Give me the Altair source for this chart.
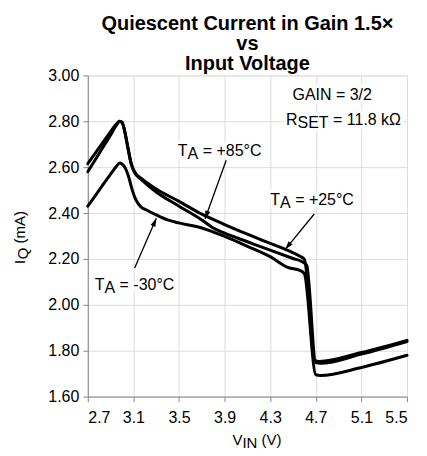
import math
import altair as alt
import pandas as pd

# ---------------- data ----------------
v_25 = [2.70, 2.80, 2.90, 2.95, 2.98, 3.00, 3.02, 3.05, 3.08, 3.11, 3.17, 3.30, 3.50,
        3.70, 3.90, 4.10, 4.30, 4.47, 4.56, 4.60, 4.69, 4.73, 5.10, 5.50]
i_25 = [2.580, 2.660, 2.740, 2.782, 2.800, 2.795, 2.765, 2.690, 2.618, 2.580, 2.551, 2.505, 2.451,
        2.395, 2.350, 2.308, 2.268, 2.234, 2.212, 2.198, 1.758, 1.753, 1.792, 1.845]

v_85 = [2.70, 2.80, 2.90, 2.95, 2.98, 3.00, 3.02, 3.05, 3.08, 3.11, 3.17, 3.30, 3.50,
        3.70, 3.80, 3.90, 4.10, 4.30, 4.50, 4.58, 4.62, 4.70, 4.74, 5.10, 5.50]
i_85 = [2.615, 2.685, 2.755, 2.788, 2.800, 2.795, 2.765, 2.688, 2.615, 2.576, 2.546, 2.492, 2.430,
        2.370, 2.335, 2.312, 2.275, 2.238, 2.202, 2.188, 2.172, 1.748, 1.745, 1.785, 1.840]

v_m30 = [2.70, 2.80, 2.90, 2.95, 2.98, 3.00, 3.03, 3.06, 3.09, 3.12, 3.16, 3.22, 3.30, 3.40, 3.50,
         3.70, 3.90, 4.10, 4.30, 4.46, 4.56, 4.60, 4.70, 4.74, 5.10, 5.50]
i_m30 = [2.430, 2.500, 2.570, 2.603, 2.618, 2.614, 2.595, 2.555, 2.500, 2.460, 2.430, 2.412, 2.392, 2.370, 2.357,
         2.335, 2.298, 2.255, 2.210, 2.162, 2.150, 2.135, 1.695, 1.692, 1.727, 1.780]

x_ticks = [2.7, 3.1, 3.5, 3.9, 4.3, 4.7, 5.1, 5.5]
y_ticks = [1.6, 1.8, 2.0, 2.2, 2.4, 2.6, 2.8, 3.0]

title_lines = ["Quiescent Current in Gain 1.5\u00d7", "vs", "Input Voltage"]

# annotations: main text, subscript, rest, anchor (V, mA)
label_main = ["T", "T", "T", "R"]
label_sub = ["A", "A", "A", "SET"]
label_rest = [" = +85\u00b0C", " = +25\u00b0C", " = -30\u00b0C", " = 11.8 k\u03a9"]
label_v = [3.490, 4.301, 2.761, 4.439]
label_i = [2.650, 2.435, 2.065, 2.785]

gain_text = "GAIN = 3/2"
gain_v = 4.496
gain_i = 2.891

arrow_tail_v = [3.914, 4.686, 3.111]
arrow_tail_i = [2.630, 2.396, 2.160]
arrow_tip_v = [3.728, 4.432, 3.301]
arrow_tip_i = [2.374, 2.242, 2.377]

# axis titles
x_title = ("V", "IN", " (V)")
y_title = ("I", "Q", " (mA)")

# ---------------- layout / style ----------------
W, H = 320, 322
XMIN, XMAX = 2.7, 5.5
YMIN, YMAX = 1.6, 3.0
FONT = "Liberation Sans"
ANN = 16
AX = 15
TICK = 16

# Arial advance widths (em) for composing sub/sup pieces
ADV = {"T": .611, "A": .667, "R": .722, "S": .667, "E": .667, "V": .667, "I": .278,
       "N": .722, "Q": .778, " ": .278}


def tw(s, size):
    return sum(ADV.get(c, .556) for c in s) * size


def split_lead(s, size):
    # SVG drops leading spaces: move them into the horizontal offset instead
    stripped = s.lstrip(" ")
    return stripped, tw(s[: len(s) - len(stripped)], size)


xs = alt.Scale(domain=[XMIN, XMAX], nice=False, zero=False)
ys = alt.Scale(domain=[YMIN, YMAX], nice=False, zero=False)

frames = []
for name, vv, ii in (("+25", v_25, i_25), ("+85", v_85, i_85), ("-30", v_m30, i_m30)):
    frames.append(pd.DataFrame({"series": name, "v": vv, "i": ii}))
curves_df = pd.concat(frames, ignore_index=True)

base_axes = alt.Chart(curves_df).mark_line(
    color="black", strokeWidth=3, interpolate="monotone", strokeJoin="round", strokeCap="round"
).encode(
    x=alt.X("v:Q", scale=xs,
            axis=alt.Axis(values=x_ticks, format=".1f", title="", labelPadding=8,
                          labelFontSize=TICK, labelFont=FONT, labelColor="black")),
    y=alt.Y("i:Q", scale=ys,
            axis=alt.Axis(values=y_ticks, format=".2f", title="", labelPadding=4,
                          labelFontSize=TICK, labelFont=FONT, labelColor="black")),
    detail="series:N",
)

layers = [base_axes]


def piece(df, text, dx, dy, halo, size=ANN, angle=None, use_value=None):
    txt, lead = split_lead(text, size)
    kw = dict(text=txt, align="left", baseline="alphabetic", font=FONT,
              fontSize=size, dx=dx + lead, dy=dy)
    if angle is not None:
        kw["angle"] = angle
    if halo:
        kw.update(color="white", stroke="white", strokeWidth=7, strokeJoin="round")
    else:
        kw.update(color="black")
    ch = alt.Chart(df).mark_text(**kw)
    if use_value is None:
        return ch.encode(x=alt.X("v:Q", scale=xs), y=alt.Y("i:Q", scale=ys))
    return ch.encode(x=alt.value(use_value[0]), y=alt.value(use_value[1]))


one = pd.DataFrame({"k": [0]})

# annotation labels (halo first, then black text)
for halo in (True, False):
    for k in range(len(label_main)):
        df = pd.DataFrame({"v": [label_v[k]], "i": [label_i[k]]})
        w1 = tw(label_main[k], ANN)
        w2 = tw(label_sub[k], ANN)
        layers.append(piece(df, label_main[k], 0, 0, halo))
        layers.append(piece(df, label_sub[k], w1, 3, halo))
        layers.append(piece(df, label_rest[k], w1 + w2, 0, halo))
    gdf = pd.DataFrame({"v": [gain_v], "i": [gain_i]})
    layers.append(piece(gdf, gain_text, 0, 0, halo))

# arrows
px_v = W / (XMAX - XMIN)
px_i = H / (YMAX - YMIN)
angs = []
for tv, ti, hv, hi in zip(arrow_tail_v, arrow_tail_i, arrow_tip_v, arrow_tip_i):
    dxp = (hv - tv) * px_v
    dyp = -(hi - ti) * px_i
    angs.append(math.degrees(math.atan2(dxp, -dyp)) % 360)
arrows_df = pd.DataFrame({"tv": arrow_tail_v, "ti": arrow_tail_i,
                          "v": arrow_tip_v, "i": arrow_tip_i, "ang": angs})
layers.append(alt.Chart(arrows_df).mark_rule(color="black", strokeWidth=1.3).encode(
    x=alt.X("tv:Q", scale=xs), y=alt.Y("ti:Q", scale=ys), x2="v:Q", y2="i:Q"))
layers.append(alt.Chart(arrows_df).mark_point(
    shape="M0,0L0.75,2.4L-0.75,2.4Z", filled=True, size=49, color="black", opacity=1,
    strokeWidth=0).encode(
    x=alt.X("v:Q", scale=xs), y=alt.Y("i:Q", scale=ys), angle=alt.Angle("ang:Q", scale=None)))

# x axis title V_IN (V)
xt_x, xt_y = 145, 371
w1 = tw(x_title[0], AX)
w2 = tw(x_title[1], AX)
layers.append(piece(one, x_title[0], 0, 0, False, size=AX, use_value=(xt_x, xt_y)))
layers.append(piece(one, x_title[1], w1, 3, False, size=AX, use_value=(xt_x, xt_y)))
layers.append(piece(one, x_title[2], w1 + w2, 0, False, size=AX, use_value=(xt_x, xt_y)))

# y axis title I_Q (mA), rotated
yt_x, yt_y = -63, 189
w1 = tw(y_title[0], AX)
w2 = tw(y_title[1], AX)
layers.append(piece(one, y_title[0], 0, 0, False, size=AX, angle=270, use_value=(yt_x, yt_y)))
layers.append(piece(one, y_title[1], w1 + 0.5, 3, False, size=AX, angle=270, use_value=(yt_x, yt_y)))
layers.append(piece(one, y_title[2], w1 + w2 + 0.5, 0, False, size=AX, angle=270, use_value=(yt_x, yt_y)))

chart = alt.layer(*layers).properties(
    width=W, height=H,
    autosize=alt.AutoSizeParams(type="none"),
    padding={"left": 80, "top": 67, "right": 12, "bottom": 62},
    title=alt.TitleParams(text=title_lines, font=FONT, fontSize=20, fontWeight="bold",
                          anchor="middle", lineHeight=20, offset=-7, color="black"),
).configure_axis(
    ticks=False, domain=False, gridColor="#111111", gridWidth=1, gridOpacity=1,
).configure_view(
    stroke="black", strokeWidth=2,
).configure(background="white")

chart.save("out.html", embed_options={"renderer": "svg", "actions": False})
